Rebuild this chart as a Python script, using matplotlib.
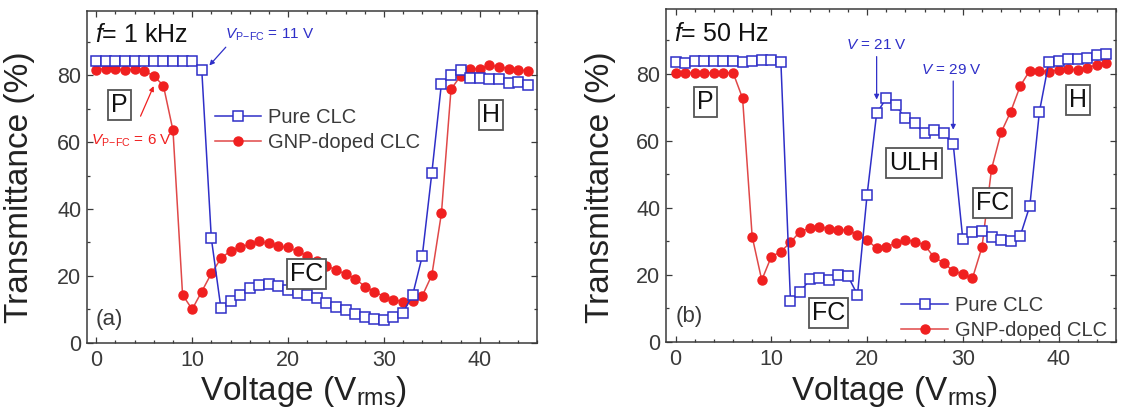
import matplotlib
matplotlib.use('Agg')
import matplotlib.pyplot as plt
import numpy as np
from matplotlib.ticker import MultipleLocator

plt.rcParams['font.family'] = ['Liberation Sans', 'DejaVu Sans']
plt.rcParams['mathtext.fontset'] = 'custom'
plt.rcParams['mathtext.rm'] = 'Liberation Sans'
plt.rcParams['mathtext.it'] = 'Liberation Sans:italic'
plt.rcParams['mathtext.bf'] = 'Liberation Sans:bold'

# voltage steps (Vrms)
voltage = np.arange(0, 46)

# (a) f = 1 kHz
pure_1k = [84.2, 84.2, 84.2, 84.2, 84.2, 84.2, 84.2, 84.2, 84.2, 84.2, 84.2,
           81.7, 31.2, 10.3, 12.5, 14.3, 16.4, 17.3, 17.7, 17.0, 15.8, 15.0,
           14.2, 13.3, 12.0, 10.8, 9.8, 8.7, 7.7, 7.0, 6.8, 7.8, 9.0, 14.3,
           25.9, 50.8, 77.5, 80.0, 81.5, 79.3, 79.3, 79.0, 78.8, 77.8, 78.0, 77.2]
gnp_1k = [81.7, 82.0, 81.8, 81.5, 81.8, 81.3, 79.8, 76.9, 63.5, 14.3, 10.0,
          15.3, 20.7, 25.2, 27.5, 28.5, 29.5, 30.3, 29.7, 28.8, 28.5, 27.3,
          26.0, 24.5, 23.0, 21.8, 20.5, 19.2, 16.8, 15.3, 13.8, 12.8, 12.3,
          12.5, 14.0, 20.2, 38.7, 75.8, 79.8, 82.0, 82.0, 83.0, 82.5, 82.0, 81.7, 81.2]

# (b) f = 50 Hz
pure_50 = [83.7, 83.4, 83.8, 83.8, 84.0, 84.0, 84.0, 83.7, 84.0, 84.2, 84.3,
           83.5, 12.2, 14.7, 18.6, 19.1, 18.4, 19.9, 19.6, 14.0, 43.8, 68.2,
           72.7, 70.7, 66.7, 65.2, 62.2, 63.2, 62.2, 59.0, 30.6, 32.9, 33.1,
           31.4, 30.4, 30.1, 31.6, 40.6, 68.7, 83.7, 84.0, 84.4, 84.5, 84.7, 85.5, 85.9]
gnp_50 = [80.4, 80.3, 80.4, 80.3, 80.4, 80.3, 80.4, 72.7, 31.4, 18.4, 25.4,
          26.9, 29.7, 32.9, 33.9, 34.4, 33.7, 33.4, 33.4, 31.9, 30.4, 27.9,
          28.4, 29.4, 30.4, 29.9, 28.9, 25.2, 23.6, 21.1, 20.2, 18.9, 28.2,
          51.6, 62.5, 68.7, 76.4, 81.0, 80.9, 80.7, 81.2, 81.4, 81.2, 81.9, 82.7, 83.2]

blue = '#2f2fc8'
red = '#f02020'
red_line = '#e04848'
grey = '#3a3a3a'

W, H = 1123, 407
fig = plt.figure(figsize=(W / 100, H / 100), dpi=100)
ax_a = fig.add_axes([86.7 / W, 1 - 342.7 / H, 450.6 / W, 332.0 / H])
ax_b = fig.add_axes([666.0 / W, 1 - 341.7 / H, 450.0 / W, 332.4 / H])


def style_axes(ax):
    ax.set_xlim(-1, 46)
    ax.set_ylim(0, 99.3)
    ax.xaxis.set_major_locator(MultipleLocator(10))
    ax.xaxis.set_minor_locator(MultipleLocator(2))
    ax.yaxis.set_major_locator(MultipleLocator(20))
    ax.yaxis.set_minor_locator(MultipleLocator(10))
    ax.set_yticks([0, 20, 40, 60, 80])
    ax.tick_params(which='both', direction='in', top=True, right=True,
                   color=grey, width=0.9)
    ax.tick_params(which='major', length=4, labelsize=15.5, labelcolor=grey)
    ax.tick_params(which='minor', length=2.5)
    ax.tick_params(axis='x', pad=5)
    ax.tick_params(axis='y', pad=4)
    for s in ax.spines.values():
        s.set_color(grey)
        s.set_linewidth(1.1)


def box(ax, x, y, s):
    ax.text(x, y, s, ha='center', va='center', fontsize=18, color='#111111', zorder=5,
            bbox=dict(boxstyle='square,pad=0.12', fc='white', ec='#555555', lw=1.3))


def plot_pair(ax, pure, gnp):
    ax.plot(voltage, pure, color=blue, lw=1.1, marker='s', ms=6.5, mfc='white',
            mec=blue, mew=1.1, label='Pure CLC', zorder=3)
    ax.plot(voltage, gnp, color=red_line, lw=1.1, marker='o', ms=6.5, mfc=red,
            mec=red, label='GNP-doped CLC', zorder=2)


for ax in (ax_a, ax_b):
    style_axes(ax)

# panel (a)
plot_pair(ax_a, pure_1k, gnp_1k)
ax_a.text(-0.1, 92, r'$f$= 1 kHz', fontsize=18, va='center', color='#111111')
ax_a.text(13.4, 92, r'$V_{\mathregular{P\!-\!FC}}$ = 11 V', fontsize=11, va='center', color=blue)
ax_a.annotate('', xy=(11.6, 82.3), xytext=(13.7, 89),
              arrowprops=dict(arrowstyle='-|>', color=blue, lw=0.9, mutation_scale=7))
ax_a.text(-0.6, 60.5, r'$V_{\mathregular{P\!-\!FC}}$ = 6 V', fontsize=11, va='center', color=red)
ax_a.annotate('', xy=(6.1, 77.5), xytext=(4.5, 67),
              arrowprops=dict(arrowstyle='-|>', color=red, lw=0.9, mutation_scale=7))
box(ax_a, 2.4, 71.2, 'P')
box(ax_a, 41.2, 68.0, 'H')
box(ax_a, 21.9, 20.5, 'FC')
ax_a.text(-0.1, 7, '(a)', fontsize=16, va='center', color=grey)
ax_a.legend(loc='upper left', bbox_to_anchor=(0.285, 0.707), frameon=False, fontsize=14.5,
            handlelength=2.3, handletextpad=0.35, labelspacing=0.32, borderpad=0,
            borderaxespad=0, labelcolor=grey)

# panel (b)
plot_pair(ax_b, pure_50, gnp_50)
ax_b.text(-0.2, 92, r'$f$= 50 Hz', fontsize=18, va='center', color='#111111')
ax_b.text(21, 88.6, r'$V$ = 21 V', fontsize=11, ha='center', va='center', color=blue)
ax_b.annotate('', xy=(21, 71.5), xytext=(21, 86),
              arrowprops=dict(arrowstyle='-|>', color=blue, lw=0.9, mutation_scale=7))
ax_b.text(28.8, 81.2, r'$V$ = 29 V', fontsize=11, ha='center', va='center', color=blue)
ax_b.annotate('', xy=(29, 62.5), xytext=(29, 78.7),
              arrowprops=dict(arrowstyle='-|>', color=blue, lw=0.9, mutation_scale=7))
box(ax_b, 3.1, 71.7, 'P')
box(ax_b, 42.0, 72.2, 'H')
box(ax_b, 24.9, 53.3, 'ULH')
box(ax_b, 33.1, 41.3, 'FC')
box(ax_b, 16.0, 8.5, 'FC')
ax_b.text(0.0, 7.5, '(b)', fontsize=16, va='center', color=grey)
ax_b.legend(loc='lower left', bbox_to_anchor=(0.523, 0.005), frameon=False, fontsize=14.5,
            handlelength=2.3, handletextpad=0.35, labelspacing=0.32, borderpad=0,
            borderaxespad=0, labelcolor=grey)

# axis titles
for xc, yc in ((20, 303.5), (600, 894.5)):
    fig.text(xc / W, 1 - 187.5 / H, 'Transmittance (%)', rotation=90, fontsize=24,
             ha='center', va='center', color='#222222')
    fig.text(yc / W, 7 / H, r'Voltage (V$_{\mathregular{rms}}$)', fontsize=24,
             ha='center', va='baseline', color='#222222')

fig.savefig('out.png', dpi=100)
